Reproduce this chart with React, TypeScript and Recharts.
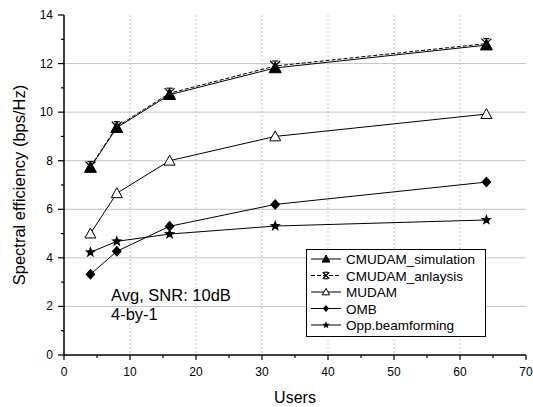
import React from "react";
import { CartesianGrid, Label, Line, LineChart, XAxis, YAxis } from "recharts";

const FONT = "'Liberation Sans', Arial, sans-serif";

// Number of users on the x axis
const users = [4, 8, 16, 32, 64];

// Spectral efficiency (bps/Hz) per scheme
const cmudamSimulation = [7.72, 9.36, 10.72, 11.82, 12.76];
const cmudamAnalysis = [7.76, 9.4, 10.78, 11.9, 12.82];
const mudam = [5.0, 6.66, 8.0, 9.0, 9.92];
const omb = [3.32, 4.27, 5.3, 6.2, 7.12];
const oppBeamforming = [4.23, 4.68, 4.98, 5.31, 5.56];

const xTicks = [0, 5, 10, 15, 20, 25, 30, 35, 40, 45, 50, 55, 60, 65, 70];
const yTicks = [0, 1, 2, 3, 4, 5, 6, 7, 8, 9, 10, 11, 12, 13, 14];
const hGrid = [2, 4, 6, 8, 10, 12];
const vGrid = [10, 20, 30, 40, 50, 60];

const legendNames = [
  "CMUDAM_simulation",
  "CMUDAM_anlaysis",
  "MUDAM",
  "OMB",
  "Opp.beamforming",
];

const data = users.map((u, i) => ({
  users: u,
  sim: cmudamSimulation[i],
  ana: cmudamAnalysis[i],
  mudam: mudam[i],
  omb: omb[i],
  opp: oppBeamforming[i],
}));

type MarkerKind = "triUp" | "cross" | "triOpen" | "diamond" | "star";

function marker(kind: MarkerKind, cx: number, cy: number, s: number) {
  switch (kind) {
    case "triUp":
      return (
        <polygon
          points={`${cx},${cy - s} ${cx - s},${cy + s * 0.8} ${cx + s},${cy + s * 0.8}`}
          fill="#000"
          stroke="#000"
        />
      );
    case "triOpen":
      return (
        <polygon
          points={`${cx},${cy - s} ${cx - s},${cy + s * 0.8} ${cx + s},${cy + s * 0.8}`}
          fill="#fff"
          stroke="#000"
          strokeWidth={1}
        />
      );
    case "cross":
      return (
        <g stroke="#000" strokeWidth={1.2} fill="none">
          <line x1={cx - s} y1={cy - s} x2={cx + s} y2={cy + s} />
          <line x1={cx + s} y1={cy - s} x2={cx - s} y2={cy + s} />
          <line x1={cx - s * 0.6} y1={cy - s} x2={cx + s * 0.6} y2={cy - s} />
          <line x1={cx - s * 0.6} y1={cy + s} x2={cx + s * 0.6} y2={cy + s} />
        </g>
      );
    case "diamond":
      return (
        <polygon
          points={`${cx},${cy - s} ${cx + s * 0.9},${cy} ${cx},${cy + s} ${cx - s * 0.9},${cy}`}
          fill="#000"
        />
      );
    case "star": {
      const pts: string[] = [];
      for (let k = 0; k < 10; k++) {
        const r = k % 2 === 0 ? s : s * 0.42;
        const a = -Math.PI / 2 + (k * Math.PI) / 5;
        pts.push(`${cx + r * Math.cos(a)},${cy + r * Math.sin(a)}`);
      }
      return <polygon points={pts.join(" ")} fill="#000" />;
    }
  }
}

const series: { key: string; kind: MarkerKind; dash?: string; size: number }[] = [
  { key: "sim", kind: "triUp", size: 6 },
  { key: "ana", kind: "cross", dash: "4 2", size: 5 },
  { key: "mudam", kind: "triOpen", size: 5.5 },
  { key: "omb", kind: "diamond", size: 5.5 },
  { key: "opp", kind: "star", size: 6 },
];

const XTick = (props: any) => {
  const { x, y, payload } = props;
  const major = payload.value % 10 === 0;
  return (
    <g>
      <line x1={x} y1={y} x2={x} y2={y + (major ? 5 : 3)} stroke="#000" strokeWidth={1.2} />
      {major && (
        <text x={x} y={y + 21} textAnchor="middle" fontSize={12} fontFamily={FONT} fill="#000">
          {payload.value}
        </text>
      )}
    </g>
  );
};

const YTick = (props: any) => {
  const { x, y, payload } = props;
  const major = payload.value % 2 === 0;
  return (
    <g>
      <line x1={x} y1={y} x2={x - (major ? 6 : 3)} y2={y} stroke="#000" strokeWidth={1.2} />
      {major && (
        <text x={x - 11} y={y + 4} textAnchor="end" fontSize={12} fontFamily={FONT} fill="#000">
          {payload.value}
        </text>
      )}
    </g>
  );
};

export default function App() {
  return (
    <div style={{ position: "absolute", left: 0, top: 0, width: 533, height: 407, background: "#fff" }}>
      <LineChart
        width={533}
        height={407}
        data={data}
        margin={{ top: 15, right: 7, left: 24, bottom: 22 }}
      >
        <CartesianGrid horizontal vertical={false} horizontalValues={hGrid} stroke="#c4c4c4" />
        <CartesianGrid
          horizontal={false}
          vertical
          verticalValues={vGrid}
          stroke="#c4c4c4"
          strokeDasharray="2 2"
        />
        <XAxis
          type="number"
          dataKey="users"
          domain={[0, 70]}
          ticks={xTicks}
          interval={0}
          tickSize={0}
          tickMargin={0}
          tickLine={false}
          tick={<XTick />}
          height={30}
          axisLine={{ stroke: "#000", strokeWidth: 1.5 }}
        >
          <Label
            content={({ viewBox }: any) => (
              <text
                x={viewBox.x + viewBox.width / 2}
                y={viewBox.y + 48}
                textAnchor="middle"
                fontSize={16}
                fontFamily={FONT}
                fill="#000"
              >
                Users
              </text>
            )}
          />
        </XAxis>
        <YAxis
          type="number"
          domain={[0, 14]}
          ticks={yTicks}
          interval={0}
          tickSize={0}
          tickMargin={0}
          tickLine={false}
          tick={<YTick />}
          width={40}
          axisLine={{ stroke: "#000", strokeWidth: 1.5 }}
        >
          <Label
            content={({ viewBox }: any) => {
              const cx = viewBox.x + 1;
              const cy = viewBox.y + viewBox.height / 2;
              return (
                <text
                  x={cx}
                  y={cy}
                  transform={`rotate(-90 ${cx} ${cy})`}
                  textAnchor="middle"
                  fontSize={16.5}
                  fontFamily={FONT}
                  fill="#000"
                >
                  Spectral efficiency (bps/Hz)
                </text>
              );
            }}
          />
        </YAxis>
        {series.map((s) => (
          <Line
            key={s.key}
            dataKey={s.key}
            stroke="#000"
            strokeWidth={1}
            strokeDasharray={s.dash}
            isAnimationActive={false}
            dot={(p: any) => <g key={`${s.key}-${p.index}`}>{marker(s.kind, p.cx, p.cy, s.size)}</g>}
            activeDot={false}
          />
        ))}
      </LineChart>

      {/* legend box and annotation */}
      <svg
        width={533}
        height={407}
        style={{ position: "absolute", left: 0, top: 0, pointerEvents: "none" }}
      >
        <rect x={306.5} y={249.5} width={179} height={87} fill="#fff" stroke="#000" strokeWidth={1} />
        {series.map((s, i) => {
          const cy = 259 + i * 16.5;
          return (
            <g key={s.key}>
              <line
                x1={311}
                y1={cy}
                x2={341}
                y2={cy}
                stroke="#000"
                strokeWidth={1}
                strokeDasharray={s.dash}
              />
              {marker(s.kind, 326, cy, s.size * 0.65)}
              <text x={346} y={cy + 5} fontSize={13.5} fontFamily={FONT} fill="#000">
                {legendNames[i]}
              </text>
            </g>
          );
        })}
        <text x={111} y={301} fontSize={16.5} fontFamily={FONT} fill="#000">
          Avg, SNR: 10dB
        </text>
        <text x={111} y={320} fontSize={16.5} fontFamily={FONT} fill="#000">
          4-by-1
        </text>
      </svg>
    </div>
  );
}
